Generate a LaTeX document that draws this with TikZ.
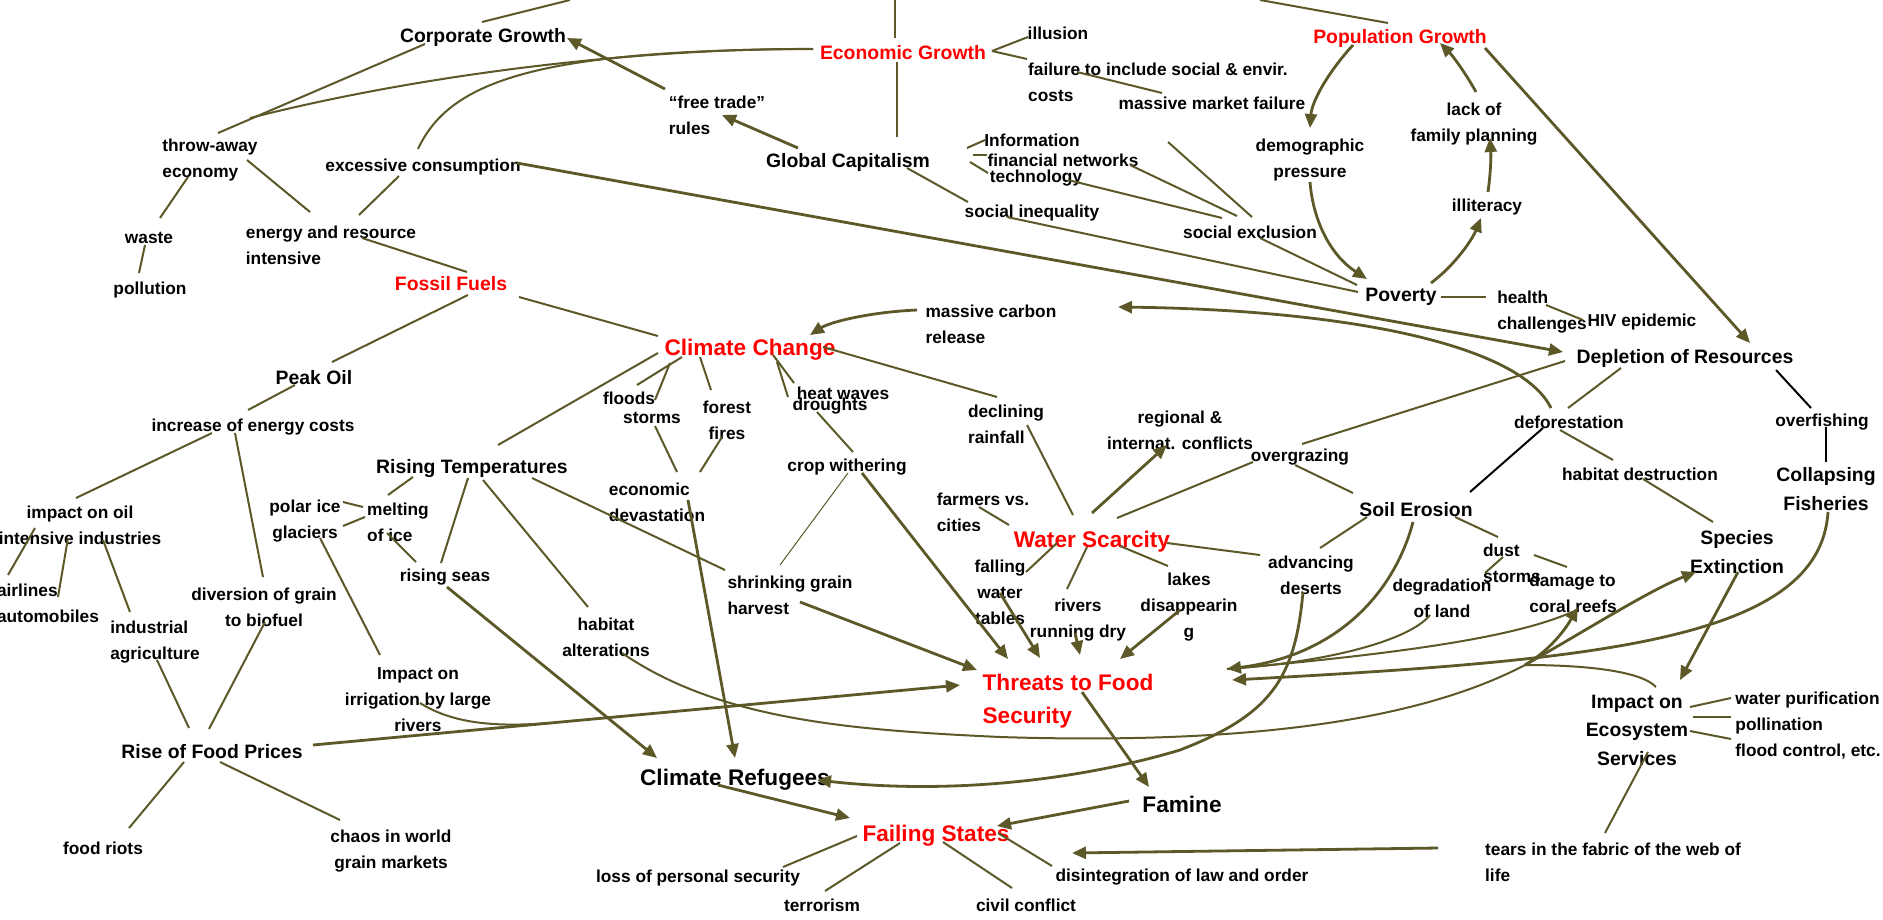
\documentclass[tikz,border=0pt]{standalone}
\usepackage{fontspec}
\setmainfont{Liberation Sans}
\usetikzlibrary{calc,arrows.meta}
\definecolor{olv}{RGB}{92,88,40}
\definecolor{hred}{RGB}{255,0,0}
\begin{document}
\begin{tikzpicture}[x=1pt,y=-1pt,
 tS/.style={font=\fontsize{17.3}{26}\selectfont\bfseries,inner sep=0pt},
 tM/.style={font=\fontsize{19.4}{28.5}\selectfont\bfseries,inner sep=0pt},
 tL/.style={font=\fontsize{22.6}{33}\selectfont\bfseries,inner sep=0pt},
 hl/.style={text=hred},
 ln/.style={draw=olv,line width=2pt},
 lnT/.style={draw=olv,line width=1pt},
 bk/.style={draw=black,line width=2pt},
 ar/.style={draw=olv,line width=2.8pt,-{Triangle[length=14pt,width=12pt]}},
]
\useasboundingbox[fill=white] (0,0) rectangle (1883,919);
% nodes
\node[tM] (corp) at (483,37) {Corporate Growth};
\node[tM,hl] (econ) at (903,53) {Economic Growth};
\node[tM,hl] (pop) at (1400,38) {Population Growth};
\node[tS,align=left] (throw) at (210,160) {throw-away\\economy};
\node[tS] (waste) at (149,238) {waste};
\node[tS] (pollution) at (150,290) {pollution};
\node[tS,align=left] (energy) at (331,245) {energy and resource\\intensive};
\node[tS] (excess) at (423,167) {excessive consumption};
\node[tM,hl] (fossil) at (451,284) {Fossil Fuels};
\node[tS,align=left] (freetrade) at (717,115) {“free trade”\\rules};
\node[tM] (glob) at (848,162) {Global Capitalism};
\node[tS] (illusion) at (1058,33) {illusion};
\node[tS,align=left] (failure) at (1158,82) {failure to include social \& envir.\\costs};
\node[tS] (market) at (1212,103) {massive market failure};
\node[tS] (info) at (1032,140) {Information};
\node[tS] (finnet) at (1063,160) {financial networks};
\node[tS] (tech) at (1036,178) {technology};
\node[tS] (ineq) at (1032,213) {social inequality};
\node[tS] (exclusion) at (1250,232) {social exclusion};
\node[tS,align=center] (demo) at (1310,160) {demographic\\pressure};
\node[tM] (poverty) at (1401,297) {Poverty};
\node[tS,align=center] (family) at (1474,124) {lack of\\family planning};
\node[tS] (illit) at (1487,207) {illiteracy};
\node[tS,align=left] (health) at (1542,312) {health\\challenges};
\node[tS] (hiv) at (1642,322) {HIV epidemic};
\node[tM] (depl) at (1685,358) {Depletion of Resources};
\node[tS] (defor) at (1569,422) {deforestation};
\node[tS] (overfish) at (1822,422) {overfishing};
\node[tM,align=center] (collapse) at (1826,489) {Collapsing\\Fisheries};
\node[tS] (habdest) at (1640,474) {habitat destruction};
\node[tM,align=center] (species) at (1737,552) {Species\\Extinction};
\node[tM] (soil) at (1416,510) {Soil Erosion};
\node[tS,align=left] (dust) at (1512,563) {dust\\storms};
\node[tS,align=left] (coral) at (1573,593) {damage to\\coral reefs};
\node[tS,align=center] (degr) at (1442,598) {degradation\\of land};
\node[tM] (peak) at (314,378) {Peak Oil};
\node[tS] (incr) at (253,427) {increase of energy costs};
\node[tS,align=center] (oilind) at (80,525) {impact on oil\\intensive industries};
\node[tS,align=left] (airlines) at (48,603) {airlines\\automobiles};
\node[tS,align=left] (indag) at (155,642) {industrial\\agriculture};
\node[tM] (risetemp) at (472,469) {Rising Temperatures};
\node[tS,align=center] (polar) at (305,521) {polar ice\\glaciers};
\node[tS,align=left] (melting) at (398,522) {melting\\of ice};
\node[tS] (seas) at (445,577) {rising seas};
\node[tS,align=center] (biofuel) at (264,607) {diversion of grain\\to biofuel};
\node[tS,align=center] (irrig) at (418,700) {Impact on\\irrigation by large\\rivers};
\node[tM] (riseprice) at (212,752) {Rise of Food Prices};
\node[tS] (riots) at (103,848) {food riots};
\node[tS,align=center] (chaos) at (391,851) {chaos in world\\grain markets};
\node[tS,align=center] (habalt) at (606,637) {habitat\\alterations};
\node[tL] (refugees) at (735,780) {Climate Refugees};
\node[tL,hl] (failing) at (936,836) {Failing States};
\node[tS] (loss) at (698,878) {loss of personal security};
\node[tS] (terror) at (822,905) {terrorism};
\node[tS] (civil) at (1026,905) {civil conflict};
\node[tS] (disint) at (1182,877) {disintegration of law and order};
\node[tL] (famine) at (1182,804) {Famine};
\node[tL,hl,align=left] (threats) at (1068,701) {Threats to Food\\Security};
\node[tS,align=left] (tears) at (1613,862) {tears in the fabric of the web of\\life};
\node[tM,align=center] (ecosys) at (1637,730) {Impact on\\Ecosystem\\Services};
\node[tS,align=left] (services) at (1808,726) {water purification\\pollination\\flood control, etc.};
\node[tL,hl] (climate) at (750,350) {Climate Change};
\node[tS,align=left] (carbon) at (991,324) {massive carbon\\release};
\node[tS] (floods) at (629,398) {floods};
\node[tS] (storms) at (652,418) {storms};
\node[tS,align=center] (forest) at (727,420) {forest\\fires};
\node[tS] (heat) at (843,393) {heat waves};
\node[tS] (droughts) at (830,406) {droughts};
\node[tS,align=left] (econdev) at (657,502) {economic\\devastation};
\node[tS] (crop) at (847,467) {crop withering};
\node[tS,align=left] (shrink) at (790,595) {shrinking grain\\harvest};
\node[tS,align=left] (rainfall) at (1006,424) {declining\\rainfall};
\node[tS,align=center] (regional) at (1180,430) {regional \&\\internat. conflicts};
\node[tS] (overgraze) at (1300,457) {overgrazing};
\node[tS,align=left] (farmers) at (983,512) {farmers vs.\\cities};
\node[tL,hl] (water) at (1092,542) {Water Scarcity};
\node[tS,align=center] (falling) at (1000,592) {falling\\water\\tables};
\node[tS,align=center] (rivers) at (1078,620) {rivers\\running dry};
\node[tS,align=center] (lakes) at (1189,607) {lakes\\disappearin\\g};
\node[tS,align=center] (deserts) at (1311,575) {advancing\\deserts};
\coordinate (topA) at (570,0);
\coordinate (topB) at (895,0);
\coordinate (topC) at (1260,0);
% connectors
\draw[ln] ($(corp)+(-1,-15)$) -- (topA);
\draw[ln] (topB) -- ($(econ)+(-8,-15)$);
\draw[ln] ($(econ)+(-6,9)$) -- ($(glob)+(49,-25)$);
\draw[ln] (topC) -- ($(pop)+(-12,-15)$);
\draw[ln] ($(corp)+(-58,7)$) -- ($(throw)+(8,-27)$);
\draw[ln] ($(econ)+(-90,-4)$) .. controls (650,48) and (430,72) .. ($(throw)+(40,-42)$);
\draw[ln] ($(excess)+(-5,-18)$) .. controls (450,80) and (540,50) .. ($(econ)+(-90,-4)$);
\draw[ln] ($(throw)+(37,0)$) -- ($(energy)+(-21,-33)$);
\draw[ln] ($(throw)+(-22,17)$) -- ($(waste)+(11,-20)$);
\draw[ln] ($(waste)+(-4,7)$) -- ($(pollution)+(-11,-17)$);
\draw[ln] ($(excess)+(-24,9)$) -- ($(energy)+(28,-30)$);
\draw[ln] ($(energy)+(31,-7)$) -- ($(fossil)+(16,-12)$);
\draw[ln] ($(fossil)+(17,11)$) -- ($(peak)+(18,-16)$);
\draw[ar] ($(freetrade)+(-52,-26)$) -- ($(corp)+(84,1)$);
\draw[ar] ($(glob)+(-50,-14)$) -- ($(freetrade)+(5,0)$);
\draw[ln] ($(glob)+(59,6)$) -- ($(ineq)+(-64,-11)$);
\draw[ar] ($(excess)+(94,-4)$) -- ($(depl)+(-122,-6)$);
\draw[ln] ($(econ)+(89,-2)$) -- ($(illusion)+(-30,4)$);
\draw[ln] ($(econ)+(89,-2)$) -- ($(failure)+(-131,-23)$);
\draw[ln] ($(failure)+(-81,-10)$) -- ($(market)+(-50,-10)$);
\draw[ln] ($(info)+(-65,8)$) -- ($(info)+(-47,0)$);
\draw[ln] ($(finnet)+(-90,-5)$) -- ($(finnet)+(-76,-5)$);
\draw[ln] ($(tech)+(-66,-16)$) -- ($(tech)+(-48,-5)$);
\draw[ln] ($(finnet)+(67,5)$) -- ($(exclusion)+(-13,-16)$);
\draw[ln] ($(tech)+(32,2)$) -- ($(exclusion)+(-28,-14)$);
\draw[ln] ($(market)+(-44,39)$) -- ($(exclusion)+(2,-15)$);
\draw[ln] ($(exclusion)+(10,6)$) -- ($(poverty)+(-44,-12)$);
\draw[ln] ($(ineq)+(-25,4)$) -- ($(poverty)+(-43,-5)$);
\draw[ar] ($(pop)+(-47,7)$) .. controls (1330,70) and (1312,100) .. ($(demo)+(0,-32)$);
\draw[ar] ($(demo)+(0,22)$) .. controls (1313,220) and (1330,255) .. ($(poverty)+(-34,-18)$);
\draw[ar] ($(family)+(2,-32)$) .. controls (1465,72) and (1452,55) .. ($(pop)+(40,5)$);
\draw[ar] ($(illit)+(1,-15)$) .. controls (1491,170) and (1491,155) .. ($(family)+(16,14)$);
\draw[ar] ($(poverty)+(30,-14)$) .. controls (1455,265) and (1472,240) .. ($(illit)+(-6,11)$);
\draw[ln] ($(poverty)+(40,0)$) -- ($(health)+(-56,-15)$);
\draw[ln] ($(health)+(4,-7)$) -- ($(hiv)+(-59,-2)$);
\draw[ar] ($(pop)+(85,10)$) -- ($(depl)+(65,-15)$);
\draw[ln] ($(overgraze)+(2,-13)$) -- ($(depl)+(-120,3)$);
\draw[ln] ($(depl)+(-64,10)$) -- ($(defor)+(-1,-14)$);
\draw[bk] ($(depl)+(91,12)$) -- ($(overfish)+(-11,-14)$);
\draw[bk] ($(overfish)+(4,5)$) -- ($(collapse)+(0,-27)$);
\draw[ar] ($(defor)+(-18,-14)$) .. controls (1520,345) and (1350,310) .. ($(carbon)+(127,-17)$);
\draw[bk] ($(defor)+(-26,6)$) -- ($(soil)+(54,-18)$);
\draw[ln] ($(defor)+(-9,8)$) -- ($(habdest)+(-27,-14)$);
\draw[ln] ($(habdest)+(3,5)$) -- ($(species)+(-24,-30)$);
\draw[ln] ($(soil)+(39,7)$) -- ($(dust)+(-14,-26)$);
\draw[ln] ($(dust)+(-9,-6)$) -- ($(dust)+(-27,10)$);
\draw[ln] ($(dust)+(22,-8)$) -- ($(coral)+(-6,-26)$);
\draw[ln] ($(overgraze)+(-5,8)$) -- ($(soil)+(-63,-17)$);
\draw[ln] ($(water)+(25,-24)$) -- ($(overgraze)+(-47,5)$);
\draw[ar] ($(water)+(0,-29)$) -- ($(regional)+(-13,15)$);
\draw[ln] ($(rainfall)+(21,1)$) -- ($(water)+(-19,-27)$);
\draw[ln] ($(climate)+(73,-3)$) -- ($(rainfall)+(-9,-27)$);
\draw[ln] ($(farmers)+(-4,-5)$) -- ($(water)+(-83,-17)$);
\draw[ln] ($(water)+(-35,1)$) -- ($(falling)+(26,-20)$);
\draw[ln] ($(water)+(-5,5)$) -- ($(rivers)+(-11,-31)$);
\draw[ln] ($(water)+(28,4)$) -- ($(lakes)+(-21,-41)$);
\draw[ln] ($(water)+(75,1)$) -- ($(deserts)+(-51,-20)$);
\draw[ln] ($(soil)+(-49,7)$) -- ($(deserts)+(9,-27)$);
\draw[ln] ($(fossil)+(68,13)$) -- ($(climate)+(-92,-14)$);
\draw[ln] ($(peak)+(-19,7)$) -- ($(incr)+(-5,-17)$);
\draw[ln] ($(incr)+(-41,6)$) -- ($(oilind)+(-4,-27)$);
\draw[ln] ($(incr)+(-18,6)$) -- ($(biofuel)+(-1,-30)$);
\draw[ln] ($(oilind)+(-45,3)$) -- ($(airlines)+(-40,-28)$);
\draw[ln] ($(oilind)+(-12,13)$) -- ($(airlines)+(10,-6)$);
\draw[ln] ($(oilind)+(23,15)$) -- ($(indag)+(-25,-30)$);
\draw[ln] ($(polar)+(38,-19)$) -- ($(melting)+(-35,-15)$);
\draw[ln] ($(polar)+(38,5)$) -- ($(melting)+(-33,-5)$);
\draw[ln] ($(melting)+(-10,-27)$) -- ($(risetemp)+(-59,8)$);
\draw[ln] ($(melting)+(-11,11)$) -- ($(seas)+(-29,-15)$);
\draw[ln] ($(risetemp)+(-4,9)$) -- ($(seas)+(-4,-14)$);
\draw[ln] ($(polar)+(15,17)$) -- ($(irrig)+(-38,-45)$);
\draw[ln] ($(indag)+(2,18)$) -- ($(riseprice)+(-23,-24)$);
\draw[ln] ($(biofuel)+(1,15)$) -- ($(riseprice)+(-3,-23)$);
\draw[ln] ($(riseprice)+(-28,10)$) -- ($(riots)+(26,-20)$);
\draw[ln] ($(riseprice)+(8,10)$) -- ($(chaos)+(-51,-31)$);
\draw[ar] ($(riseprice)+(101,-7)$) -- coordinate[pos=0.37] (join1) ($(threats)+(-108,-16)$);
\draw[ln] ($(irrig)+(2,3)$) .. controls (455,725) and (500,727) .. (join1);
\draw[ln] ($(risetemp)+(11,11)$) -- ($(habalt)+(-18,-30)$);
\draw[ar] ($(seas)+(2,10)$) -- ($(refugees)+(-78,-22)$);
\draw[ln] ($(climate)+(-92,3)$) -- ($(risetemp)+(26,-24)$);
\draw[ln] ($(climate)+(-68,7)$) -- ($(floods)+(8,-13)$);
\draw[ln] ($(climate)+(-80,13)$) -- ($(storms)+(3,-18)$);
\draw[ln] ($(climate)+(-50,7)$) -- ($(forest)+(-16,-30)$);
\draw[ln] ($(climate)+(23,5)$) -- ($(heat)+(-49,-10)$);
\draw[ln] ($(climate)+(27,12)$) -- ($(droughts)+(-42,-9)$);
\draw[ln] ($(storms)+(3,8)$) -- ($(econdev)+(20,-30)$);
\draw[ln] ($(forest)+(-5,17)$) -- ($(econdev)+(43,-30)$);
\draw[ln] ($(droughts)+(-13,6)$) -- ($(crop)+(6,-15)$);
\draw[lnT] ($(crop)+(1,6)$) -- ($(shrink)+(-10,-30)$);
\draw[ar] ($(crop)+(15,6)$) -- ($(threats)+(-60,-42)$);
\draw[ln] ($(risetemp)+(60,9)$) -- ($(shrink)+(-65,-25)$);
\draw[ar] ($(econdev)+(31,-2)$) -- ($(refugees)+(0,-22)$);
\draw[ar] ($(shrink)+(10,7)$) -- ($(threats)+(-91,-31)$);
\draw[ar] ($(falling)+(0,1)$) -- ($(threats)+(-28,-43)$);
\draw[ar] ($(rivers)+(-3,13)$) -- ($(threats)+(12,-46)$);
\draw[ar] ($(lakes)+(-9,3)$) -- ($(threats)+(52,-42)$);
\draw[ar] ($(carbon)+(-74,-14)$) .. controls (870,312) and (830,322) .. ($(climate)+(60,-15)$);
\draw[ar] ($(threats)+(14,-9)$) -- ($(famine)+(-33,-17)$);
\draw[ar] ($(famine)+(-53,-3)$) -- ($(failing)+(61,-10)$);
\draw[ar] ($(refugees)+(-17,5)$) -- ($(failing)+(-86,-18)$);
\draw[ln] ($(failing)+(-79,0)$) -- ($(loss)+(85,-11)$);
\draw[ln] ($(failing)+(-36,7)$) -- ($(terror)+(3,-14)$);
\draw[ln] ($(failing)+(7,6)$) -- ($(civil)+(-14,-17)$);
\draw[ln] ($(failing)+(62,-3)$) -- ($(disint)+(-130,-11)$);
\draw[ar] ($(tears)+(-175,-14)$) -- ($(failing)+(136,17)$);
\draw[ln] ($(ecosys)+(53,-23)$) -- ($(services)+(-77,-28)$);
\draw[ln] ($(ecosys)+(56,-13)$) -- ($(services)+(-77,-9)$);
\draw[ln] ($(ecosys)+(53,1)$) -- ($(services)+(-77,13)$);
\draw[ln] ($(ecosys)+(11,22)$) -- ($(tears)+(-8,-29)$);
\draw[ar] ($(species)+(1,20)$) -- ($(ecosys)+(43,-50)$);
\draw[ar] ($(collapse)+(2,23)$) .. controls (1820,640) and (1600,660) .. ($(threats)+(164,-21)$);
\draw[ar] ($(soil)+(-3,12)$) .. controls (1395,590) and (1340,655) .. ($(threats)+(159,-32)$);
\draw[ln] ($(degr)+(-12,17)$) .. controls (1410,640) and (1330,662) .. ($(threats)+(159,-32)$);
\draw[ln] ($(coral)+(-1,19)$) .. controls (1520,635) and (1420,652) .. ($(threats)+(159,-32)$);
\draw[ar] ($(deserts)+(-8,17)$) .. controls (1295,680) and (1270,715) .. (1180,750) .. controls (1080,780) and (950,795) .. ($(refugees)+(82,0)$);
\draw[ln] ($(habalt)+(16,16)$) .. controls (720,720) and (850,730) .. (1000,737) .. controls (1250,745) and (1420,720) .. (1525,665) coordinate (fork);
\draw[ar] (fork) .. controls (1550,650) and (1565,630) .. ($(coral)+(5,14)$);
\draw[ar] (fork) .. controls (1590,628) and (1650,590) .. ($(species)+(-41,20)$);
\draw[ln] (fork) .. controls (1580,665) and (1640,670) .. ($(ecosys)+(19,-43)$);
\end{tikzpicture}
\end{document}
